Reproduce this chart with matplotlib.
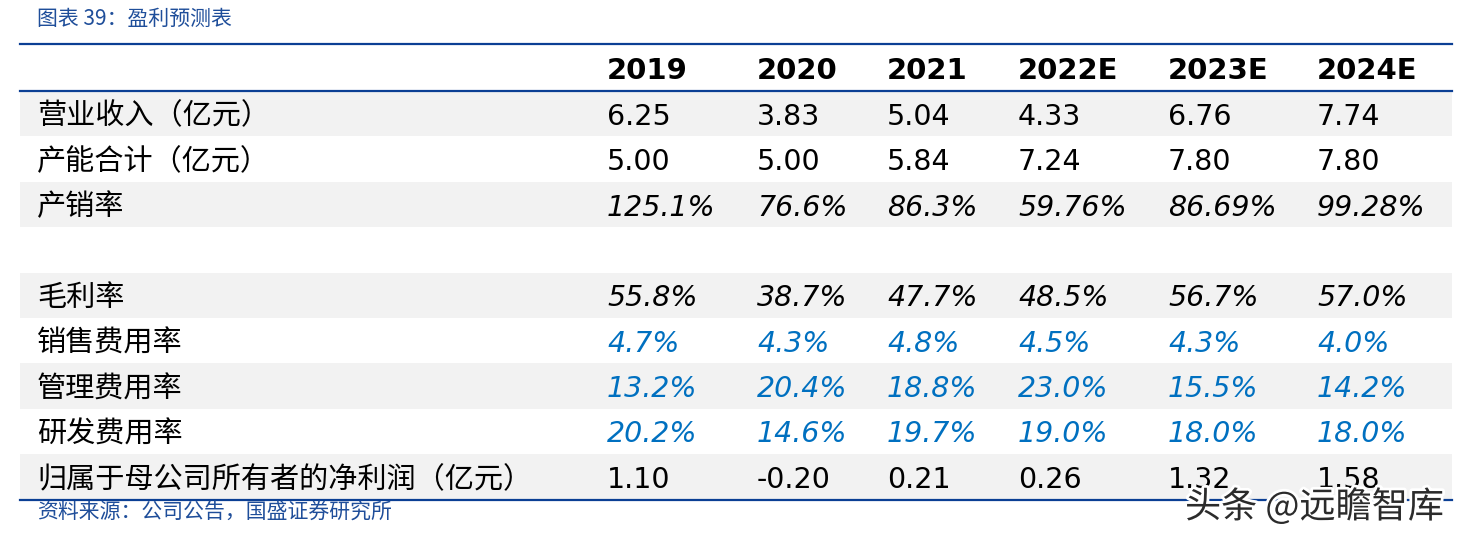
import matplotlib
matplotlib.use('Agg')
import matplotlib.pyplot as plt
import matplotlib.patheffects as pe

# =============================================================================
#                               Table data                                    #
# =============================================================================

years = ['2019', '2020', '2021', '2022E', '2023E', '2024E']
row_labels = ['营业收入（亿元）', '产能合计（亿元）', '产销率', '', '毛利率',
              '销售费用率', '管理费用率', '研发费用率',
              '归属于母公司所有者的净利润（亿元）']
revenue = [6.25, 3.83, 5.04, 4.33, 6.76, 7.74]
capacity = [5.00, 5.00, 5.84, 7.24, 7.80, 7.80]
sell_through = ['125.1%', '76.6%', '86.3%', '59.76%', '86.69%', '99.28%']
gross_margin = [55.8, 38.7, 47.7, 48.5, 56.7, 57.0]
selling_ratio = [4.7, 4.3, 4.8, 4.5, 4.3, 4.0]
admin_ratio = [13.2, 20.4, 18.8, 23.0, 15.5, 14.2]
rnd_ratio = [20.2, 14.6, 19.7, 19.0, 18.0, 18.0]
net_profit = [1.10, -0.20, 0.21, 0.26, 1.32, 1.58]

title = '图表 39：盈利预测表'
source = '资料来源：公司公告，国盛证券研究所'
watermark = '头条 @远瞻智库'

_LINE_BLUE = '#0B3F94'
_TEXT_BLUE = '#0070C0'
_TITLE_BLUE = '#1F4E9A'
_GREY = '#F2F2F2'
_CJK = ['Noto Sans CJK SC', 'DejaVu Sans']
_NUM = 'DejaVu Sans Condensed'

# each row: (cells, colour, italic)
rows = [
    (['%.2f' % v for v in revenue], 'black', False),
    (['%.2f' % v for v in capacity], 'black', False),
    (sell_through, 'black', True),
    (None, None, False),
    (['%.1f%%' % v for v in gross_margin], 'black', True),
    (['%.1f%%' % v for v in selling_ratio], _TEXT_BLUE, True),
    (['%.1f%%' % v for v in admin_ratio], _TEXT_BLUE, True),
    (['%.1f%%' % v for v in rnd_ratio], _TEXT_BLUE, True),
    (['%.2f' % v for v in net_profit], 'black', False),
]

# =============================================================================
#                               Layout                                        #
# =============================================================================

fig = plt.figure(figsize=(14.74, 5.42), dpi=100)
ax = fig.add_axes([0, 0, 1, 1])
ax.set_xlim(0, 1474)
ax.set_ylim(542, 0)
ax.axis('off')

x_left, x_right = 20, 1452
label_x = 37
col_x = [607, 757, 887, 1018, 1168, 1317]
top_y, head_y = 44, 91
row_h = 45.4
bottom_y = head_y + row_h * len(rows)

ax.text(label_x, 19, title, fontsize=15, color=_TITLE_BLUE, family=_CJK, va='center')

# grey bands on every other row
for i in range(0, len(rows), 2):
    ax.fill_between([x_left, x_right], head_y + row_h * i, head_y + row_h * (i + 1),
                    color=_GREY, lw=0, zorder=0)

for y in (top_y, head_y, bottom_y):
    ax.plot([x_left, x_right], [y, y], color=_LINE_BLUE, lw=1.6, zorder=2)

# header
for x, yr in zip(col_x, years):
    ax.text(x, 68 + 11, yr, fontsize=21, fontweight='bold', family=_NUM, va='baseline')

# body
for i, (label, (cells, colour, italic)) in enumerate(zip(row_labels, rows)):
    base = head_y + row_h * (i + 0.5) + 11
    if label:
        ax.text(label_x, base, label, fontsize=21, family=_CJK, va='baseline')
    if cells is None:
        continue
    for x, s in zip(col_x, cells):
        ax.text(x, base, s, fontsize=20.5, family=_NUM, color=colour,
                style='italic' if italic else 'normal', va='baseline')

ax.text(label_x, 513, source, fontsize=15, color=_TITLE_BLUE, family=_CJK, va='center')

ax.text(1185, 507, watermark, fontsize=26, color='#2b2b2b', family=_CJK, va='center', zorder=5,
        path_effects=[pe.withStroke(linewidth=4, foreground='white')])

plt.savefig('out.png', dpi=100)
